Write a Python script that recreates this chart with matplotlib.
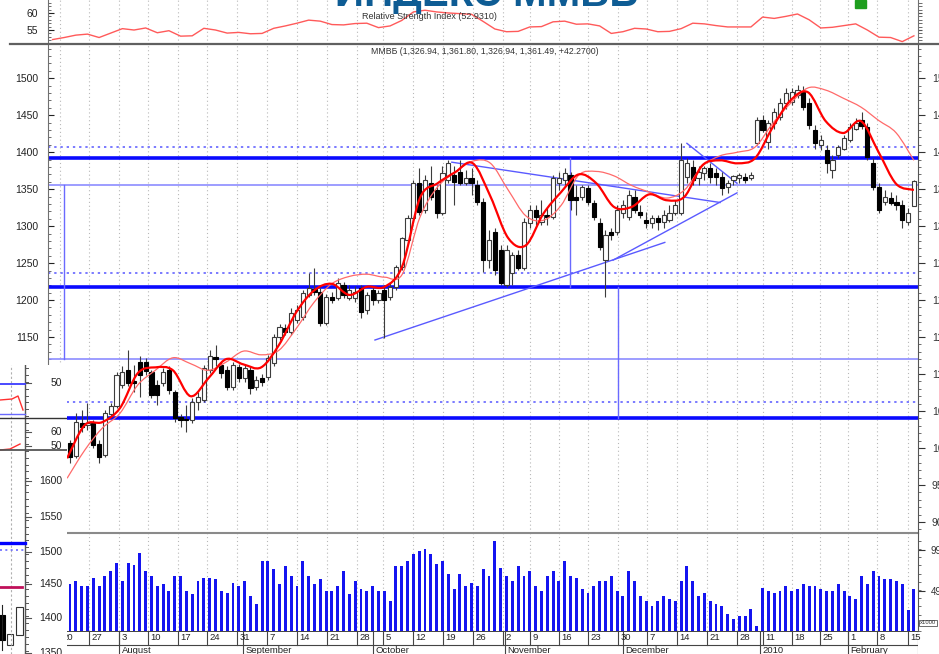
import numpy as np
import matplotlib
matplotlib.use("Agg")
import matplotlib.pyplot as plt
from matplotlib.lines import Line2D
from matplotlib.patches import Rectangle, PathPatch
from matplotlib.path import Path
from matplotlib.ticker import FixedLocator, MultipleLocator

plt.rcParams['font.family'] = ['Liberation Sans', 'DejaVu Sans']

# ------------------------------------------------------------------ data
opens = [1007, 989, 1034, 1031, 1034, 1005, 991, 1046, 1057, 1085,
         1105, 1091, 1116, 1116, 1103, 1085, 1088, 1105, 1076, 1042,
         1039, 1038, 1062, 1065, 1105, 1123, 1112, 1105, 1082, 1109,
         1095, 1105, 1082, 1095, 1096, 1115, 1150, 1162, 1157, 1173,
         1177, 1207, 1215, 1211, 1169, 1204, 1203, 1220, 1203, 1203,
         1216, 1186, 1214, 1200, 1214, 1204, 1218, 1245, 1281, 1311,
         1358, 1322, 1359, 1349, 1318, 1362, 1369, 1373, 1358, 1365,
         1355, 1332, 1254, 1292, 1268, 1220, 1236, 1261, 1243, 1304,
         1322, 1305, 1315, 1312, 1358, 1362, 1369, 1339, 1339, 1351,
         1331, 1304, 1254, 1292, 1292, 1318, 1312, 1339, 1319, 1308,
         1304, 1311, 1305, 1308, 1318, 1318, 1366, 1380, 1365, 1372,
         1378, 1372, 1366, 1353, 1362, 1365, 1366, 1365, 1412, 1443,
         1414, 1439, 1447, 1466, 1468, 1477, 1481, 1466, 1430, 1410,
         1403, 1376, 1396, 1405, 1416, 1432, 1443, 1434, 1385, 1353,
         1332, 1338, 1332, 1328, 1305, 1326.94]
highs = [1011, 1047, 1051, 1061, 1038, 1011, 1051, 1061, 1103, 1111,
         1132, 1112, 1124, 1122, 1105, 1092, 1108, 1111, 1078, 1046,
         1058, 1068, 1076, 1112, 1132, 1139, 1116, 1111, 1116, 1114,
         1112, 1111, 1097, 1100, 1126, 1154, 1168, 1168, 1189, 1193,
         1214, 1237, 1243, 1216, 1208, 1211, 1230, 1224, 1220, 1219,
         1220, 1211, 1218, 1214, 1220, 1223, 1247, 1286, 1315, 1362,
         1378, 1369, 1382, 1355, 1382, 1389, 1382, 1389, 1376, 1378,
         1362, 1338, 1295, 1297, 1274, 1274, 1265, 1268, 1311, 1328,
         1328, 1335, 1325, 1369, 1373, 1378, 1373, 1355, 1355, 1355,
         1335, 1311, 1295, 1297, 1328, 1335, 1349, 1349, 1328, 1319,
         1315, 1315, 1322, 1328, 1335, 1412, 1392, 1389, 1382, 1382,
         1386, 1378, 1373, 1362, 1369, 1372, 1372, 1373, 1447, 1450,
         1443, 1460, 1473, 1487, 1487, 1491, 1489, 1473, 1437, 1423,
         1410, 1396, 1410, 1423, 1440, 1446, 1454, 1440, 1392, 1358,
         1349, 1346, 1342, 1335, 1324, 1361.80]
lows = [980, 987, 1022, 1024, 1000, 980, 988, 1043, 1054, 1081,
        1084, 1076, 1069, 1099, 1068, 1058, 1084, 1073, 1035, 1028,
        1022, 1034, 1051, 1062, 1101, 1111, 1095, 1078, 1078, 1089,
        1089, 1073, 1078, 1084, 1092, 1111, 1146, 1153, 1153, 1169,
        1173, 1204, 1207, 1165, 1166, 1196, 1200, 1203, 1200, 1197,
        1176, 1181, 1193, 1196, 1149, 1200, 1213, 1241, 1277, 1305,
        1315, 1318, 1335, 1311, 1315, 1359, 1328, 1355, 1355, 1342,
        1328, 1238, 1243, 1234, 1220, 1218, 1220, 1241, 1241, 1297,
        1301, 1301, 1301, 1309, 1349, 1355, 1322, 1315, 1335, 1328,
        1308, 1268, 1204, 1281, 1288, 1311, 1308, 1318, 1311, 1297,
        1297, 1295, 1297, 1305, 1315, 1315, 1359, 1355, 1355, 1362,
        1359, 1355, 1342, 1345, 1355, 1359, 1359, 1362, 1410, 1427,
        1405, 1432, 1443, 1459, 1464, 1473, 1457, 1432, 1405, 1403,
        1372, 1365, 1392, 1403, 1414, 1430, 1432, 1389, 1349, 1318,
        1328, 1328, 1322, 1297, 1301, 1326.94]
closes = [988, 1035, 1028, 1034, 1004, 988, 1047, 1057, 1099, 1103,
          1088, 1088, 1099, 1104, 1072, 1072, 1103, 1078, 1041, 1038,
          1038, 1062, 1069, 1108, 1124, 1120, 1101, 1082, 1112, 1095,
          1108, 1081, 1092, 1089, 1122, 1150, 1163, 1157, 1182, 1186,
          1209, 1216, 1211, 1169, 1204, 1200, 1223, 1207, 1214, 1211,
          1184, 1207, 1200, 1209, 1200, 1218, 1245, 1284, 1311, 1358,
          1319, 1362, 1339, 1318, 1372, 1386, 1360, 1358, 1365, 1358,
          1332, 1254, 1281, 1241, 1223, 1268, 1261, 1243, 1305, 1322,
          1312, 1315, 1313, 1365, 1365, 1372, 1335, 1335, 1353, 1332,
          1312, 1272, 1288, 1288, 1322, 1328, 1342, 1322, 1315, 1304,
          1311, 1305, 1315, 1318, 1328, 1389, 1386, 1362, 1373, 1378,
          1366, 1366, 1351, 1358, 1368, 1369, 1363, 1369, 1443, 1430,
          1439, 1454, 1467, 1480, 1481, 1484, 1461, 1437, 1412, 1416,
          1385, 1389, 1407, 1419, 1434, 1439, 1436, 1393, 1353, 1322,
          1339, 1331, 1328, 1308, 1318, 1361.49]
volumes = [57, 61, 55, 55, 65, 55, 67, 73, 83, 61, 83, 80, 95, 73, 67, 55, 57, 49, 67, 67,
           49, 45, 61, 65, 65, 63, 49, 46, 58, 55, 61, 43, 33, 85, 85, 76, 57, 79, 67, 55,
           85, 67, 57, 63, 49, 49, 55, 73, 45, 61, 51, 49, 55, 49, 49, 37, 79, 79, 85, 94,
           98, 100, 94, 82, 85, 70, 51, 70, 55, 58, 55, 76, 67, 110, 77, 67, 61, 79, 67, 73,
           55, 49, 67, 73, 61, 85, 67, 65, 51, 46, 55, 61, 61, 67, 49, 43, 73, 61, 43, 37,
           30, 37, 43, 39, 37, 61, 79, 61, 43, 46, 37, 33, 30, 21, 15, 18, 18, 27, 6, 52,
           49, 46, 49, 55, 49, 51, 57, 55, 55, 51, 49, 49, 57, 49, 43, 39, 67, 57, 73, 67,
           63, 63, 61, 57, 26, 51]
rsi_values = [52.2, 52.8, 53.5, 53.8, 52.8, 54.1, 55.4, 55.0, 55.6, 54.2,
              54.8, 53.2, 53.3, 55.5, 55.0, 54.1, 54.3, 53.9, 54.0, 55.5,
              56.2, 57.0, 57.9, 57.6, 56.6, 56.5, 56.9, 57.0, 55.7, 56.2,
              57.8, 60.3, 60.8, 60.3, 60.0, 59.8, 59.6, 57.5, 55.3, 54.5,
              54.6, 55.9, 56.0, 57.4, 57.6, 56.7, 56.8, 56.2, 54.0, 54.5,
              55.5, 55.3, 54.5, 54.6, 55.4, 57.0, 56.8, 56.3, 55.9, 55.9,
              55.9, 58.8, 58.4, 59.0, 59.7, 58.0, 55.6, 55.8, 56.3, 56.8,
              55.0, 52.9, 52.8, 51.6, 53.3]
fast_ma = [986, 1031, 1035, 1054, 1101, 1109, 1105, 1070, 1094, 1120,
           1113, 1109, 1139, 1184, 1213, 1222, 1207, 1218, 1218, 1246,
           1338, 1358, 1373, 1385, 1340, 1284, 1274, 1317, 1346, 1370,
           1358, 1326, 1326, 1343, 1335, 1340, 1382, 1389, 1385, 1392,
           1434, 1470, 1481, 1442, 1426, 1442, 1400, 1357, 1349]
slow_ma = [959, 997, 1027, 1047, 1085, 1105, 1122, 1114, 1105, 1116,
           1131, 1126, 1132, 1162, 1197, 1222, 1232, 1235, 1231, 1235,
           1312, 1353, 1373, 1388, 1385, 1349, 1314, 1308, 1328, 1369,
           1374, 1368, 1355, 1346, 1338, 1349, 1381, 1395, 1400, 1407,
           1439, 1466, 1487, 1484, 1473, 1461, 1443, 1426, 1389]

day_tick_pos = [-1.72, 3.26, 8.42, 13.40, 18.56, 23.54, 28.69, 33.85, 39.00, 44.16,
                49.31, 53.78, 58.93, 64.09, 69.24, 74.40, 79.04, 84.02, 89.00, 94.16,
                99.14, 104.30, 109.45, 114.60, 119.07, 124.05, 128.87, 133.68, 138.66, 143.99]
day_tick_labels = ["20", "27", "3", "10", "17", "24", "31", "7", "14", "21",
                   "28", "5", "12", "19", "26", "2", "9", "16", "23", "30",
                   "7", "14", "21", "28", "11", "18", "25", "1", "8", "15"]
month_pos = [8.42, 29.73, 52.06, 74.74, 95.02, 118.56, 133.68]
month_labels = ["August", "September", "October", "November", "December", "2010", "February"]

levels_thick = [1392, 1218, 1041]
levels_thin = [1355, 1120]
levels_dotted = [1407, 1236, 1062]
trend_segments = [((52.4, 1146), (102.2, 1278)),
                  ((65.6, 1386.5), (111.7, 1332)),
                  ((93.3, 1254), (114.6, 1345)),
                  ((106.0, 1412), (114.6, 1358))]
vertical_segments = [(-1.0, 1120, 1355), (85.9, 1218, 1392), (94.2, 1041, 1218)]

# ------------------------------------------------------------------ layout
W, H = 939, 654
fig = plt.figure(figsize=(W / 100, H / 100), dpi=100)


def rect(x0, y0, x1, y1):
    return [x0 / W, 1 - y1 / H, (x1 - x0) / W, (y1 - y0) / H]


def smooth_path(xs, ys):
    pts = np.column_stack([xs, ys]).astype(float)
    verts = [pts[0]]
    codes = [Path.MOVETO]
    n = len(pts)
    for k in range(n - 1):
        p0 = pts[k - 1] if k > 0 else pts[k]
        p1, p2 = pts[k], pts[k + 1]
        p3 = pts[k + 2] if k + 2 < n else pts[k + 1]
        verts += [p1 + (p2 - p0) / 6.0, p2 - (p3 - p1) / 6.0, p2]
        codes += [Path.CURVE4] * 3
    return Path(verts, codes)


BAR_PX, FIRST_PX = 5.82, 70.0
XL = ((48 - FIRST_PX) / BAR_PX, (918 - FIRST_PX) / BAR_PX)
GRID = dict(color='#b8b8b8', lw=0.8, ls=(0, (1, 2.5)))
SPINE = '#707070'

ax_r = fig.add_axes(rect(48, 0, 918, 44))
ax_p = fig.add_axes(rect(48, 45, 918, 533))
ax_v = fig.add_axes(rect(48, 533, 918, 631))
ax_d = fig.add_axes(rect(48, 631, 918, 654))
for a in (ax_r, ax_p, ax_v, ax_d):
    a.set_xlim(*XL)
    a.set_xticks([])
    a.set_facecolor('white')
    for s in a.spines.values():
        s.set_visible(False)

# ------------------------------------------------------------------ RSI panel
rsi_pos = np.arange(-3, 146, 2)
ax_r.plot(rsi_pos, rsi_values, color='#ff5a5a', lw=1.0, zorder=3)
ax_r.set_ylim(50.9, 63.8)
for p in day_tick_pos:
    ax_r.axvline(p, **GRID, zorder=1)
ax_r.spines['left'].set_visible(True)
ax_r.spines['left'].set_color(SPINE)
ax_r.yaxis.set_major_locator(FixedLocator([55, 60]))
ax_r.yaxis.set_minor_locator(MultipleLocator(1))
ax_r.tick_params(axis='y', which='major', direction='in', length=4, labelsize=7.5, pad=7, colors='#222')
ax_r.tick_params(axis='y', which='minor', direction='in', length=2, color='#555')
ax_rr = ax_r.twinx()
ax_rr.set_ylim(ax_r.get_ylim())
for s in ax_rr.spines.values():
    s.set_visible(False)
ax_rr.spines['right'].set_visible(True)
ax_rr.spines['right'].set_color(SPINE)
ax_rr.yaxis.set_major_locator(FixedLocator([55, 60]))
ax_rr.yaxis.set_minor_locator(MultipleLocator(1))
ax_rr.tick_params(axis='y', which='both', direction='out', length=3, labelright=False, color='#555')
ax_r.text(0.439, 0.62, 'Relative Strength Index (52.9310)', transform=ax_r.transAxes,
          ha='center', va='center', fontsize=6.5, color='#333')

# ------------------------------------------------------------------ price panel
ax_p.set_ylim(885, 1545)
for p in day_tick_pos:
    ax_p.axvline(p, **GRID, zorder=1)

for lv in levels_thick:
    ax_p.axhline(lv, color='#0a0aff', lw=2.6, zorder=2)
for lv in levels_thin:
    ax_p.axhline(lv, color='#8c8cff', lw=1.2, zorder=2)
for lv in levels_dotted:
    ax_p.axhline(lv, color='#7a7aff', lw=1.4, ls=(0, (1.2, 2)), zorder=2)
for (x0, y0), (x1, y1) in trend_segments:
    ax_p.plot([x0, x1], [y0, y1], color='#5a5aff', lw=1.0, zorder=2)
for xv, y0, y1 in vertical_segments:
    ax_p.plot([xv, xv], [y0, y1], color='#6a6aff', lw=1.0, zorder=2)

idx = np.arange(len(closes))
o = np.array(opens, float)
c = np.array(closes, float)
h = np.array(highs, float)
lo = np.array(lows, float)
up = c >= o
ax_p.vlines(idx, lo, h, color='#3c3c3c', lw=0.8, zorder=3)
body_bot = np.minimum(o, c)
body_h = np.maximum(np.abs(c - o), 1.8)
ax_p.bar(idx[up], body_h[up], bottom=body_bot[up], width=0.72, facecolor='white',
         edgecolor='#3c3c3c', lw=0.8, zorder=4)
ax_p.bar(idx[~up], body_h[~up], bottom=body_bot[~up], width=0.72, facecolor='black',
         edgecolor='black', lw=0.8, zorder=4)

ma_pos = np.linspace(-0.5, 145, len(fast_ma))
ax_p.add_patch(PathPatch(smooth_path(ma_pos, slow_ma), fill=False, edgecolor='#ff6a6a',
                         lw=0.9, zorder=5))
ax_p.add_patch(PathPatch(smooth_path(ma_pos, fast_ma), fill=False, edgecolor='#ff0000',
                         lw=1.6, zorder=6))

ax_p.spines['left'].set_visible(True)
ax_p.spines['left'].set_color(SPINE)
ax_p.yaxis.set_major_locator(MultipleLocator(50))
ax_p.yaxis.set_minor_locator(MultipleLocator(10))
ax_p.tick_params(axis='y', which='major', direction='in', length=4, labelsize=7.5, pad=7, colors='#222')
ax_p.tick_params(axis='y', which='minor', direction='in', length=2, color='#555')
ax_pr = ax_p.twinx()
ax_pr.set_ylim(ax_p.get_ylim())
for s in ax_pr.spines.values():
    s.set_visible(False)
ax_pr.spines['right'].set_visible(True)
ax_pr.spines['right'].set_color('#555')
ax_pr.yaxis.set_major_locator(MultipleLocator(50))
ax_pr.yaxis.set_minor_locator(MultipleLocator(10))
ax_pr.tick_params(axis='y', which='major', direction='out', length=5, labelsize=7.5, pad=5, colors='#333')
ax_pr.tick_params(axis='y', which='minor', direction='out', length=2.5, color='#555')
ax_p.text(0.502, 0.986, 'ММВБ (1,326.94, 1,361.80, 1,326.94, 1,361.49, +42.2700)',
          transform=ax_p.transAxes, ha='center', va='center', fontsize=6.3, color='#333')

# ------------------------------------------------------------------ volume panel
ax_v.set_ylim(0, 119.5)
for p in day_tick_pos:
    ax_v.axvline(p, **GRID, zorder=1)
ax_v.bar(idx, volumes, width=0.5, color='#1414f0', zorder=3)
ax_v.spines['top'].set_visible(True)
ax_v.spines['top'].set_color('#8a8a8a')
ax_v.spines['top'].set_linewidth(1.5)
ax_v.set_yticks([])
ax_vr = ax_v.twinx()
ax_vr.set_ylim(ax_v.get_ylim())
for s in ax_vr.spines.values():
    s.set_visible(False)
ax_vr.spines['right'].set_visible(True)
ax_vr.spines['right'].set_color('#555')
ax_vr.yaxis.set_major_locator(FixedLocator([49, 99]))
ax_vr.yaxis.set_minor_locator(MultipleLocator(10))
ax_vr.tick_params(axis='y', which='major', direction='out', length=5, labelsize=7, pad=4, colors='#333')
ax_vr.tick_params(axis='y', which='minor', direction='out', length=2.5, color='#555')
fig.text(928 / W, 1 - 623 / H, 'x1000', fontsize=4.2, ha='center', va='center', color='#333',
         bbox=dict(boxstyle='square,pad=0.15', fc='white', ec='#555', lw=0.6))

# ------------------------------------------------------------------ date axis
ax_d.set_ylim(0, 1)
ROW = 0.39
ax_d.axhline(1.0, color='#222', lw=1.2)
ax_d.axhline(ROW, color='#444', lw=0.8)
for p, lab in zip(day_tick_pos, day_tick_labels):
    ax_d.plot([p, p], [ROW, 1], color='#444', lw=0.8)
    ax_d.text(p + 0.45, 0.70, lab, fontsize=6.8, ha='left', va='center', color='#222')
for p, lab in zip(month_pos, month_labels):
    ax_d.plot([p, p], [0, 1], color='#444', lw=0.8)
    ax_d.text(p + 0.45, 0.16, lab, fontsize=6.8, ha='left', va='center', color='#222')
ax_d.set_yticks([])
ax_d.axvline(XL[1], color='#555', lw=0.8)

# ------------------------------------------------------------------ figure decorations
fig.add_artist(Line2D([10 / W, 1.0], [1 - 44 / H, 1 - 44 / H], color='#606060', lw=1.6))
fig.text(487 / W, 1 - 6 / H, 'ИНДЕКС ММВБ', ha='center', va='baseline', fontsize=29,
         fontweight='bold', color='#0e5c94')
fig.add_artist(Rectangle((855 / W, 1 - 8 / H), 11 / W, 8 / H, transform=fig.transFigure,
                         color='#1e9e1e'))

# ------------------------------------------------------------------ overlapping fragment (left)
ax_f = fig.add_axes(rect(0, 365, 67, 654))
ax_f.set_zorder(10)
ax_f.set_xlim(0, 67)
ax_f.set_ylim(654, 365)
ax_f.set_facecolor('white')
for s in ax_f.spines.values():
    s.set_visible(False)
ax_f.set_xticks([])
ax_f.set_yticks([])
frag_labels = [(383, '50'), (432, '60'), (446, '50'), (481, '1600'), (517, '1550'),
               (552, '1500'), (584, '1450'), (618, '1400'), (653, '1350')]
ax_f.axvline(11, color='#b0b0b0', lw=0.8, ls=(0, (2, 2)))
ax_f.axvline(25, color='#555', lw=1.0)
for yy in np.arange(368, 654, 6.9):
    ax_f.plot([25, 28], [yy, yy], color='#555', lw=0.7)
for yy, lab in frag_labels:
    ax_f.plot([25, 31], [yy, yy], color='#555', lw=0.8)
    ax_f.text(62, yy, lab, ha='right', va='center', fontsize=7.5, color='#222')
ax_f.plot([0, 25], [384, 384], color='#3c3cff', lw=1.3)
ax_f.plot([0, 25], [414, 414], color='#6a6aff', lw=1.0)
ax_f.plot([0, 12, 18, 23], [400, 399, 396, 410], color='#ff3030', lw=1.0)
ax_f.plot([0, 67], [418, 418], color='#333', lw=1.0)
ax_f.plot([0, 10, 20], [450, 449, 444], color='#ff3030', lw=1.0)
ax_f.plot([0, 67], [450, 450], color='#555', lw=1.3)
ax_f.plot([0, 25], [543, 543], color='#0000ff', lw=2.4)
ax_f.plot([0, 25], [550, 550], color='#6a6aff', lw=1.2, ls=(0, (1.2, 2)))
ax_f.plot([0, 22], [587, 587], color='#c0105a', lw=2.0)
ax_f.plot([2, 2], [605, 650], color='#222', lw=0.8)
ax_f.add_patch(Rectangle((-1, 615), 6, 25, fc='black', ec='black', lw=0.8))
ax_f.add_patch(Rectangle((6.5, 634), 6.5, 11, fc='white', ec='#333', lw=0.8))
ax_f.add_patch(Rectangle((16, 607), 6.5, 28, fc='white', ec='#333', lw=0.8))

fig.savefig('out.png', dpi=100)
